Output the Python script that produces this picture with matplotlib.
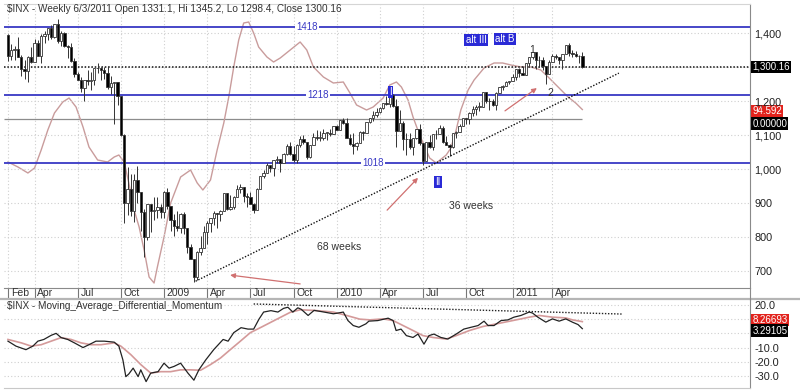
import numpy as np
import pandas as pd
import matplotlib
matplotlib.use('Agg')
import matplotlib.pyplot as plt
from matplotlib.lines import Line2D
from matplotlib.transforms import blended_transform_factory as btf

plt.rcParams['font.family'] = ['Liberation Sans', 'DejaVu Sans']

# ---------------- data ----------------
title_main = r'\$INX - Weekly 6/3/2011 Open 1331.1, Hi 1345.2, Lo 1298.4, Close 1300.16'
title_low = r'\$INX - Moving_Average_Differential_Momentum'

opens = [1395.4, 1331.3, 1349.0, 1353.1, 1330.6, 1293.4, 1288.1, 1329.5, 1315.2, 1370.4,
         1332.8, 1390.3, 1397.8, 1413.9, 1388.3, 1425.4, 1375.9, 1400.4, 1360.7, 1360.0,
         1317.9, 1278.4, 1262.9, 1239.5, 1260.7, 1257.8, 1260.3, 1296.3, 1298.2, 1292.2,
         1282.8, 1242.3, 1251.7, 1255.1, 1213.3, 1099.2, 899.2, 940.6, 876.8, 968.8,
         931.0, 873.3, 800.0, 896.2, 876.1, 879.7, 887.9, 872.8, 931.8, 890.4,
         850.1, 832.0, 825.9, 868.6, 826.8, 770.1, 735.1, 683.4, 756.6, 768.5,
         815.9, 842.5, 856.6, 869.6, 866.2, 877.5, 929.2, 882.9, 887.0, 919.1,
         940.1, 946.2, 921.2, 918.9, 896.4, 879.1, 940.4, 979.3, 987.5, 1010.5,
         1004.1, 1026.1, 1028.9, 1016.4, 1042.7, 1068.3, 1044.4, 1025.2, 1071.5, 1087.7,
         1079.6, 1036.2, 1069.3, 1093.5, 1091.4, 1091.5, 1106.0, 1106.4, 1102.5, 1126.5,
         1115.1, 1145.0, 1136.0, 1091.8, 1073.9, 1066.2, 1075.5, 1109.2, 1104.5, 1138.7,
         1150.0, 1159.9, 1166.6, 1178.1, 1194.4, 1192.1, 1217.3, 1186.7, 1110.9, 1135.7,
         1087.7, 1089.4, 1064.9, 1091.6, 1117.5, 1076.8, 1022.6, 1078.0, 1064.9, 1102.7,
         1101.6, 1121.6, 1079.3, 1071.7, 1064.6, 1104.5, 1109.6, 1125.6, 1148.7, 1146.2,
         1165.2, 1176.2, 1183.1, 1183.3, 1225.9, 1199.2, 1199.7, 1189.4, 1224.7, 1240.4,
         1243.9, 1256.8, 1257.6, 1271.5, 1293.2, 1283.4, 1276.3, 1310.9, 1329.2, 1343.0,
         1319.9, 1321.2, 1304.3, 1279.2, 1313.8, 1332.4, 1328.2, 1319.7, 1337.4, 1363.6,
         1340.2, 1337.8, 1333.3, 1331.1]
highs = [1396.0, 1367.9, 1363.0, 1388.3, 1336.4, 1321.7, 1333.2, 1359.7, 1380.9, 1378.0,
         1395.9, 1404.6, 1415.1, 1422.7, 1425.8, 1440.2, 1406.3, 1404.1, 1364.7, 1370.6,
         1326.0, 1285.3, 1272.0, 1262.3, 1291.2, 1284.7, 1297.9, 1313.2, 1300.8, 1300.7,
         1303.0, 1274.4, 1255.1, 1255.1, 1215.8, 1102.2, 1006.9, 985.4, 984.4, 1007.5,
         933.0, 882.3, 896.2, 896.2, 918.9, 918.9, 896.0, 934.7, 943.9, 890.4,
         868.0, 877.9, 870.3, 875.0, 827.0, 780.1, 735.1, 758.3, 803.0, 832.9,
         845.6, 856.9, 875.6, 869.6, 880.4, 930.2, 930.2, 924.6, 920.0, 951.7,
         956.2, 946.2, 928.0, 931.9, 898.7, 943.9, 979.8, 996.7, 1018.0, 1013.0,
         1027.6, 1039.5, 1028.9, 1048.2, 1074.8, 1080.2, 1067.0, 1073.0, 1096.6, 1101.4,
         1080.0, 1071.5, 1105.4, 1113.7, 1112.0, 1119.1, 1108.0, 1117.7, 1127.6, 1130.4,
         1145.4, 1150.4, 1150.5, 1103.7, 1104.7, 1080.0, 1112.4, 1112.4, 1139.0, 1150.0,
         1169.2, 1180.7, 1181.4, 1194.7, 1213.9, 1217.3, 1219.8, 1205.1, 1173.6, 1141.0,
         1104.8, 1105.7, 1092.0, 1119.0, 1131.2, 1076.8, 1078.2, 1099.1, 1103.0, 1115.0,
         1129.2, 1127.2, 1097.0, 1075.0, 1105.1, 1110.9, 1131.5, 1148.9, 1148.9, 1167.7,
         1184.4, 1189.4, 1196.1, 1227.1, 1227.1, 1207.4, 1205.6, 1225.6, 1240.4, 1246.7,
         1259.0, 1260.2, 1278.2, 1293.2, 1296.1, 1302.7, 1311.0, 1330.8, 1344.1, 1344.1,
         1332.3, 1330.8, 1304.3, 1319.2, 1337.9, 1339.5, 1329.7, 1338.0, 1364.6, 1370.6,
         1349.4, 1346.8, 1334.5, 1345.2]
lows = [1316.8, 1320.0, 1321.0, 1328.0, 1272.7, 1263.5, 1256.9, 1312.0, 1315.2, 1331.0,
        1312.9, 1370.1, 1379.1, 1382.7, 1386.0, 1371.7, 1362.5, 1359.9, 1326.4, 1315.0,
        1272.0, 1260.7, 1225.4, 1200.4, 1245.6, 1233.4, 1247.5, 1282.0, 1261.3, 1263.6,
        1236.3, 1221.0, 1133.5, 1187.5, 1097.6, 839.8, 865.8, 862.0, 845.3, 899.7,
        818.7, 741.0, 791.5, 815.7, 851.4, 857.1, 857.0, 857.3, 883.0, 817.0,
        804.3, 819.0, 812.0, 808.1, 754.3, 734.5, 666.8, 672.9, 747.0, 768.5,
        779.8, 814.5, 836.6, 826.8, 847.1, 877.5, 878.9, 879.6, 881.5, 919.1,
        930.0, 903.8, 888.9, 896.4, 869.3, 879.1, 940.4, 972.8, 987.5, 990.0,
        978.5, 1019.0, 991.0, 1016.4, 1040.0, 1040.0, 1020.0, 1018.5, 1066.0, 1075.0,
        1029.4, 1033.4, 1069.3, 1085.0, 1083.7, 1086.0, 1085.9, 1096.6, 1102.5, 1114.8,
        1114.8, 1131.4, 1090.2, 1071.6, 1044.5, 1056.5, 1075.5, 1086.0, 1104.5, 1136.2,
        1140.0, 1152.9, 1165.0, 1175.1, 1186.8, 1183.7, 1181.6, 1065.8, 1110.9, 1055.9,
        1040.8, 1060.0, 1042.2, 1088.8, 1071.0, 1010.9, 1022.6, 1062.2, 1056.9, 1088.0,
        1101.6, 1076.6, 1069.6, 1039.7, 1062.1, 1091.1, 1109.6, 1125.6, 1131.9, 1131.9,
        1155.7, 1159.7, 1171.7, 1183.3, 1194.1, 1173.0, 1185.6, 1173.6, 1222.5, 1232.8,
        1243.9, 1250.2, 1257.6, 1262.2, 1271.3, 1275.1, 1276.3, 1302.6, 1324.6, 1294.3,
        1299.2, 1291.0, 1249.1, 1279.2, 1313.8, 1322.9, 1309.7, 1294.7, 1337.4, 1332.7,
        1329.2, 1329.8, 1311.8, 1298.4]
closes = [1331.3, 1349.0, 1353.1, 1330.6, 1293.4, 1288.1, 1329.5, 1315.2, 1370.4, 1332.8,
          1390.3, 1397.8, 1413.9, 1388.3, 1425.4, 1375.9, 1400.4, 1360.7, 1360.0, 1317.9,
          1278.4, 1262.9, 1239.5, 1260.7, 1257.8, 1260.3, 1296.3, 1298.2, 1292.2, 1282.8,
          1242.3, 1251.7, 1255.1, 1213.3, 1099.2, 899.2, 940.6, 876.8, 968.8, 931.0,
          873.3, 800.0, 896.2, 876.1, 879.7, 887.9, 872.8, 931.8, 890.4, 850.1,
          832.0, 825.9, 868.6, 826.8, 770.1, 735.1, 683.4, 756.6, 768.5, 815.9,
          842.5, 856.6, 869.6, 866.2, 877.5, 929.2, 882.9, 887.0, 919.1, 940.1,
          946.2, 921.2, 918.9, 896.4, 879.1, 940.4, 979.3, 987.5, 1010.5, 1004.1,
          1026.1, 1028.9, 1016.4, 1042.7, 1068.3, 1044.4, 1025.2, 1071.5, 1087.7, 1079.6,
          1036.2, 1069.3, 1093.5, 1091.4, 1091.5, 1106.0, 1106.4, 1102.5, 1126.5, 1115.1,
          1145.0, 1136.0, 1091.8, 1073.9, 1066.2, 1075.5, 1109.2, 1104.5, 1138.7, 1150.0,
          1159.9, 1166.6, 1178.1, 1194.4, 1192.1, 1217.3, 1186.7, 1110.9, 1135.7, 1087.7,
          1089.4, 1064.9, 1091.6, 1117.5, 1076.8, 1022.6, 1078.0, 1064.9, 1102.7, 1101.6,
          1121.6, 1079.3, 1071.7, 1064.6, 1104.5, 1109.6, 1125.6, 1148.7, 1146.2, 1165.2,
          1176.2, 1183.1, 1183.3, 1225.9, 1199.2, 1199.7, 1189.4, 1224.7, 1240.4, 1243.9,
          1256.8, 1257.6, 1271.5, 1293.2, 1283.4, 1276.3, 1310.9, 1329.2, 1343.0, 1319.9,
          1321.2, 1304.3, 1279.2, 1313.8, 1332.4, 1328.2, 1319.7, 1337.4, 1363.6, 1340.2,
          1337.8, 1333.3, 1331.1, 1300.16]

tick_months = ['2008-02', '2008-04', '2008-07', '2008-10', '2009-01', '2009-04', '2009-07',
               '2009-10', '2010-01', '2010-04', '2010-07', '2010-10', '2011-01', '2011-04']
tick_labels = ['Feb', 'Apr', 'Jul', 'Oct', '2009', 'Apr', 'Jul', 'Oct', '2010', 'Apr',
               'Jul', 'Oct', '2011', 'Apr']
price_ticks = [700, 800, 900, 1000, 1100, 1200, 1300, 1400]
price_tick_labels = ['700', '800', '900', '1,000', '1,100', '1,200', '', '1,400']  # 1,300 hidden by close box

level_values = [1418, 1218, 1018]
level_label_x = [90, 93.4, 110]
last_close = 1300.16

# price-panel overlay oscillator (pink) - week index / value
osc_weeks = [0, 3, 6, 8, 10, 12, 14, 16.5, 18.4, 20.5, 22.6, 24.4, 27, 30, 32, 33.4, 35, 36.4,
             38, 39.5, 41, 42.5, 44, 45, 47, 49, 52, 55, 57, 58.7, 61, 63, 65, 66.5, 68, 69.5,
             71, 72.5, 74, 75.5, 78, 80, 82, 85, 88, 90, 92, 95, 98, 101, 103, 105, 108, 110,
             113, 115, 117, 118.5, 120.5, 122, 124, 127, 129, 132, 133.4, 135, 136.4, 138.6,
             140.4, 143.4, 146.4, 149, 151.5, 154.5, 157.5, 160.5, 162.7, 165.7, 168.7, 171, 173]
osc_values = [-430, -480, -540, -490, -310, -110, 60, 170, 210, 120, -80, -280, -410, -430,
              -380, -360, -430, -640, -910, -1080, -1310, -1580, -1640, -1480, -1180, -840,
              -580, -510, -640, -710, -610, -310, -40, 220, 520, 790, 960, 970, 860, 720, 620,
              570, 610, 690, 770, 690, 520, 420, 360, 370, 260, 140, 90, 120, 210, 340, 370,
              320, 190, 20, -160, -390, -440, -360, -290, -110, 90, 290, 390, 510, 560, 560,
              540, 520, 520, 490, 420, 320, 220, 160, 94.592]

trend_x = [56.5, 184]
trend_y = [670, 1282]

note_text = ['68 weeks', '36 weeks', '1', '2']
note_x = [99.7, 139.5, 158, 163.5]
note_y = [771, 891, 1350, 1224]

box_text = ['alt III', 'alt B', 'I', 'II']
box_x = [141, 149.7, 115.2, 129.5]
box_y = [1379, 1382, 1226, 962]

arrow_tail_x = [88, 114.2, 149.7]
arrow_tail_y = [662, 879, 1171]
arrow_head_x = [66.9, 123.5, 159.3]
arrow_head_y = [688, 974, 1238]

# lower panel: momentum (black) and its average (pink)
mom_weeks = [0, 2.4, 5.4, 7.5, 9, 10.8, 13, 14.5, 16, 18, 20, 22.6, 24.4, 26.5, 29, 32, 33.4,
             34.6, 35.5, 36.4, 37.7, 39.2, 40, 41.6, 43, 45.2, 47, 48.5, 50, 52, 54.2, 56, 57.5,
             59.6, 62, 64.8, 66.3, 68, 70.2, 72.3, 74, 75.6, 77, 79.2, 81.3, 83, 84.3, 85.8,
             87.3, 88.3, 90.4, 92.2, 95.2, 98, 99.4, 101, 102.4, 104, 105.7, 107.8, 108.7,
             111.4, 114.5, 116, 116.9, 118.4, 120, 122, 123.5, 125.3, 126.8, 128.3, 130.4,
             132.5, 135, 137.3, 139.5, 141.6, 143.4, 144.6, 146.4, 148.5, 150.6, 152.4, 154.5,
             157, 158, 159.6, 162, 164, 166, 168, 170, 171.7, 173]
mom_values = [-5.5, -9, -11.5, -9, -5.5, -4.3, -1.4, 0, -3, -4.3, -6.7, -10, -8, -5.5, -5.5,
              -6.2, -9, -18.6, -30.5, -28.6, -24.5, -30.5, -25.7, -34, -28, -27, -21, -24.5,
              -23.3, -21, -28, -33, -25.7, -18.6, -11.4, -4.3, -5.5, 0.5, 4, 3, 3, 10, 15, 16,
              15, 17.6, 18.4, 15, 18, 17, 12.6, 16.2, 15, 13.8, 14.3, 15, 9, 5.5, 4.3, 6.7, 8.6,
              9, 10.7, 9, 2, 3, -1.6, -2.9, -0.5, -7.6, -1.6, -0.5, -2.9, -4, -0.5, 3, 4.3, 5.5,
              8.6, 5.5, 5.5, 9, 9.5, 11.4, 12.6, 15, 14.3, 11.4, 7.9, 10.2, 8.6, 10.2, 7.9, 6.2,
              3.29105]
sig_weeks = [0, 4, 7, 10, 13, 16, 19, 22, 25, 28, 32, 34, 37, 40, 43, 46, 49, 52, 55, 58, 61,
             64, 67, 70, 73, 76, 79, 82, 85, 88, 92, 98, 102, 106, 109, 113, 116, 119, 122, 125,
             128, 132, 135, 139, 143, 148, 152, 157, 160, 164, 168, 170, 173]
sig_values = [-4.3, -6.7, -9, -8, -5.5, -3, -4.3, -6.7, -8, -8, -6.7, -9, -15, -22, -28, -27,
              -27, -25.7, -25.7, -26, -22, -17.4, -11.4, -5.5, 0.5, 4, 7.6, 11.2, 14.8, 16.6,
              16.2, 15, 12.6, 10, 9.5, 10.2, 9, 5.5, 2, -1.6, -2.9, -4, -1.6, 2, 4.8, 7.1, 9,
              11.4, 12.6, 11.4, 10.9, 9.5, 8.26693]
mom_trend_x = [74, 185]
mom_trend_y = [20.7, 13.6]
mom_ticks = [20, 10, 0, -10, -20, -30]
mom_tick_labels = ['20.0', '', '', '-10.0', '-20.0', '-30.0']  # 10.0 / 0.0 hidden by value boxes

# ---------------- figure ----------------
W, H = 800, 390
def fx(px):
    return px / W
def fy(py):
    return 1 - py / H

fig = plt.figure(figsize=(W / 100, H / 100), dpi=100, facecolor='white')
ax = fig.add_axes([fx(4), fy(288), fx(750) - fx(4), fy(4) - fy(288)])
axo = ax.twinx()
ax.set_zorder(axo.get_zorder() + 1)
ax.patch.set_visible(False)
axo.patch.set_facecolor('white')

XL = (-1.2, 223.5)
ax.set_xlim(*XL)
ax.set_ylim(650, 1485.3)
axo.set_ylim((119 - 288) * 10, (119 - 4) * 10)
axo.set_yticks([])
for s in axo.spines.values():
    s.set_visible(False)

weeks = pd.date_range('2008-02-08', periods=len(closes), freq='W-FRI')
x = np.arange(len(closes))
ym = np.array(weeks.strftime('%Y-%m'))
tick_pos = [int(np.argmax(ym == m)) for m in tick_months]

grid_kw = dict(color='#cfcfcf', ls=(0, (1, 2)), lw=0.8)
ax.set_xticks(tick_pos)
ax.set_yticks(price_ticks)
ax.grid(True, **grid_kw)
ax.set_axisbelow(True)
ax.tick_params(axis='x', direction='out', length=7, width=0.8, color='#777', labelbottom=False)
ax.yaxis.tick_right()
ax.set_yticklabels(price_tick_labels)
ax.tick_params(axis='y', length=0, pad=3, labelsize=7.8, labelcolor='#222')
ax.spines['left'].set_visible(False)
ax.spines['top'].set_color('#d5d5d5')
ax.spines['right'].set_color('#8a8a8a')
ax.spines['bottom'].set_color('#8a8a8a')

for p, lab in zip(tick_pos, tick_labels):
    ax.text(p + 0.8, -0.019, lab, transform=ax.get_xaxis_transform(), ha='left', va='center',
            fontsize=7.5, color='#333', clip_on=False)

# overlay oscillator
axo.hlines(0, XL[0], 173, color='#8c8c8c', lw=0.9)
axo.plot(osc_weeks, osc_values, color='#c99c9c', lw=1.0)

# levels
blue = '#3838c4'
for v, lx in zip(level_values, level_label_x):
    ax.axhline(v, color=blue, lw=1.3, zorder=2)
    ax.text(lx, v, str(v), color=blue, fontsize=7, ha='center', va='center', zorder=6,
            bbox=dict(boxstyle='square,pad=0.1', fc='white', ec='none'))
ax.axhline(last_close, color='#111', lw=1.1, ls=(0, (1, 1.2)), zorder=2)

# candles
o = np.array(opens); h = np.array(highs); l = np.array(lows); c = np.array(closes)
up = c >= o
ax.vlines(x, l, h, color='#333', lw=0.7, zorder=3)
body = np.maximum(np.abs(c - o), 1.5)
ax.bar(x, body, bottom=np.minimum(o, c), width=0.72,
       color=np.where(up, 'white', 'black'), edgecolor='#333', linewidth=0.6, zorder=4)

# trend line
ax.plot(trend_x, trend_y, color='#111', lw=1.0, ls=(0, (1, 1.2)), zorder=5)

# notes
for t, nx, ny in zip(note_text, note_x, note_y):
    ax.text(nx, ny, t, fontsize=7.5, color='#333', ha='center', va='center', zorder=6)
for t, bx, by in zip(box_text, box_x, box_y):
    ax.text(bx, by, t, fontsize=7, color='white', ha='center', va='center', zorder=6,
            bbox=dict(boxstyle='square,pad=0.12', fc='#2a2ad6', ec='none'))
for tx, ty, hx, hy in zip(arrow_tail_x, arrow_tail_y, arrow_head_x, arrow_head_y):
    ax.annotate('', xy=(hx, hy), xytext=(tx, ty), zorder=6,
                arrowprops=dict(arrowstyle='-|>', color='#d07070', lw=0.9,
                                mutation_scale=7, shrinkA=0, shrinkB=0))

# right-side value boxes
tr = btf(ax.transAxes, ax.transData)
ax.text(1.003, last_close, '1,300.16', transform=tr, ha='left', va='center', fontsize=7,
        color='white', zorder=10, clip_on=False,
        bbox=dict(boxstyle='square,pad=0.12', fc='black', ec='none'))
tro = btf(axo.transAxes, axo.transData)
axo.text(1.003, 80, f'{osc_values[-1]:.3f}', transform=tro, ha='left', va='center',
         fontsize=7, color='white', zorder=10, clip_on=False,
         bbox=dict(boxstyle='square,pad=0.12', fc='#e2231d', ec='none'))
axo.text(1.003, -45, '0.00000', transform=tro, ha='left', va='center', fontsize=7,
         color='white', zorder=10, clip_on=False,
         bbox=dict(boxstyle='square,pad=0.12', fc='black', ec='none'))

fig.text(fx(7), fy(9), title_main, fontsize=7.2, color='#333', va='center', ha='left')

# ---------------- lower panel ----------------
ax2 = fig.add_axes([fx(4), fy(388), fx(750) - fx(4), fy(300) - fy(388)])
ax2.set_xlim(*XL)
ax2.set_ylim(-38.5, 23.5)
ax2.set_xticks([])
ax2.set_yticks(mom_ticks)
ax2.grid(True, axis='y', **grid_kw)
ax2.set_axisbelow(True)
ax2.yaxis.tick_right()
ax2.set_yticklabels(mom_tick_labels)
ax2.tick_params(axis='y', length=0, pad=3, labelsize=7.8, labelcolor='#222')
ax2.spines['left'].set_visible(False)
ax2.spines['top'].set_visible(False)
ax2.spines['right'].set_color('#8a8a8a')
ax2.spines['bottom'].set_color('#c8c8c8')

ax2.plot(mom_trend_x, mom_trend_y, color='#222', lw=1.0, ls=(0, (1, 1.2)))
ax2.plot(sig_weeks, sig_values, color='#d49a9a', lw=1.2)
ax2.plot(mom_weeks, mom_values, color='#222', lw=0.9)

tr2 = btf(ax2.transAxes, ax2.transData)
ax2.text(1.003, 9.6, f'{sig_values[-1]:.5f}', transform=tr2, ha='left',
         va='center', fontsize=7, color='white', zorder=10, clip_on=False,
         bbox=dict(boxstyle='square,pad=0.12', fc='#e2231d', ec='none'))
ax2.text(1.003, 2.0, f'{mom_values[-1]:.5f}', transform=tr2, ha='left',
         va='center', fontsize=7, color='white', zorder=10, clip_on=False,
         bbox=dict(boxstyle='square,pad=0.12', fc='black', ec='none'))

fig.text(fx(7), fy(306), title_low, fontsize=7.2, color='#333', va='center', ha='left')

# separators
fig.add_artist(Line2D([0, 1], [fy(298.5), fy(298.5)], color='#b5b5b5', lw=1.6))
fig.add_artist(Line2D([fx(750), fx(750)], [fy(288), fy(300)], color='#8a8a8a', lw=0.8))

fig.savefig('out.png', dpi=100, facecolor='white')
